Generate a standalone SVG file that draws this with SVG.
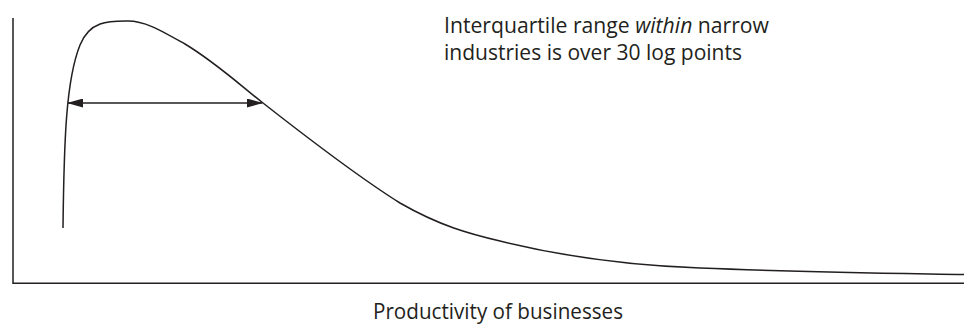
<svg xmlns="http://www.w3.org/2000/svg" width="964" height="325" viewBox="0 0 964 325">
<style>
.ln{fill:none;stroke:#231f20;stroke-width:1.5}
.t{font-family:"Open Sans","Noto Sans","Liberation Sans",sans-serif;fill:#231f20;font-size:21px}
</style>
<defs>
<marker id="ah" viewBox="0 0 16 9" refX="15" refY="4.5" markerWidth="16" markerHeight="9" markerUnits="userSpaceOnUse" orient="auto-start-reverse">
<path d="M0,0 L16,4.5 L0,9 Z" fill="#231f20"/>
</marker>
</defs>
<rect width="964" height="325" fill="#fff"/>
<g id="axes">
<path class="ln" d="M13,18 L13,283.3 L964,283.3"/>
</g>
<g id="curve">
<path class="ln" d="M63,228 C64,140 66,80 80,45 C90,20 110,21 128,21 C145,21 160,30 185,44 C215,62 240,85 263,103 C300,132 360,178 400,203 C440,226 470,234 500,241 C560,256 620,265 700,268 C800,272 880,273 964,274.5"/>
</g>
<g id="connectors">
<line class="ln" x1="68" y1="103" x2="262" y2="103" marker-start="url(#ah)" marker-end="url(#ah)"/>
</g>
<g id="label-range">
<text class="t" x="444" y="33" textLength="325" lengthAdjust="spacingAndGlyphs">Interquartile range <tspan font-style="italic">within</tspan> narrow</text>
<text class="t" x="444" y="60" textLength="298" lengthAdjust="spacingAndGlyphs">industries is over 30 log points</text>
</g>
<g id="label-axis">
<text class="t" x="373" y="319" textLength="250" lengthAdjust="spacingAndGlyphs">Productivity of businesses</text>
</g>
</svg>
